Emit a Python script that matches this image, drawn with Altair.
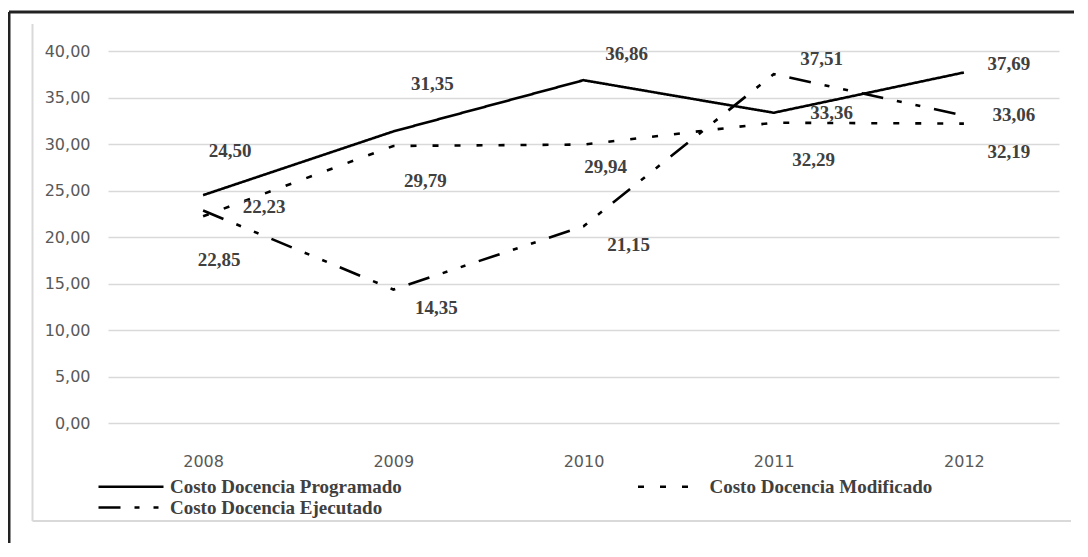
import altair as alt
import pandas as pd

years = ["2008", "2009", "2010", "2011", "2012"]
programado = [24.50, 31.35, 36.86, 33.36, 37.69]
modificado = [22.23, 29.79, 29.94, 32.29, 32.19]
ejecutado = [22.85, 14.35, 21.15, 37.51, 33.06]

series_names = [
    "Costo Docencia Programado",
    "Costo Docencia Modificado",
    "Costo Docencia Ejecutado",
]
series_values = [programado, modificado, ejecutado]

rows = []
for name, vals in zip(series_names, series_values):
    for yr, v in zip(years, vals):
        rows.append({"year": yr, "serie": name, "valor": v,
                     "etiqueta": f"{v:.2f}".replace(".", ",")})
df = pd.DataFrame(rows)

# label offsets (dx, dy) in pixels, per series / year
label_offsets = {
    series_names[0]: [(27, -44), (39, -47), (43, -26), (58, 0), (45, -8)],
    series_names[1]: [(61, -9), (32, 35), (22, 22), (40, 37), (45, 28)],
    series_names[2]: [(16, 50), (43, 18), (45, 19), (48, -15), (50, -1)],
}

dash_styles = {
    series_names[0]: [1, 0],
    series_names[1]: [6, 16],
    series_names[2]: [22, 14, 5, 14, 5, 14],
}
# legend is filled column by column: Programado / Ejecutado, then Modificado
legend_order = [series_names[0], series_names[2], series_names[1]]

W, H = 951, 372
PAD_L, PAD_T, PAD_R, PAD_B = 100, 43, 15, 120

x_enc = alt.X("year:O", scale=alt.Scale(type="point", padding=0.5),
              axis=alt.Axis(title=None, labelAngle=0, ticks=False, domain=False,
                            grid=False, labelPadding=30, labelFont="DejaVu Sans",
                            labelFontSize=16, labelColor="#595959"))
y_enc = alt.Y("valor:Q", scale=alt.Scale(domain=[0, 40], nice=False),
              axis=alt.Axis(title=None, values=list(range(0, 45, 5)), ticks=False,
                            domain=False, grid=True, gridColor="#d9d9d9",
                            gridWidth=1.5, labelPadding=18,
                            labelExpr="replace(format(datum.value, '.2f'), '.', ',')",
                            labelFont="DejaVu Sans", labelFontSize=16,
                            labelColor="#595959"))

base = alt.Chart(df)

lines = base.mark_line(color="black", strokeWidth=2.6).encode(
    x=x_enc,
    y=y_enc,
    strokeDash=alt.StrokeDash(
        "serie:N",
        scale=alt.Scale(domain=legend_order,
                        range=[dash_styles[n] for n in legend_order]),
        sort=legend_order,
        legend=alt.Legend(
            title=None, orient="none", legendX=13.5, legendY=426, columns=2,
            columnPadding=229.5, rowPadding=1,
            symbolType="M-6.5,0H6.5", symbolSize=100,
            symbolStrokeWidth=2.6, symbolStrokeColor="black",
            labelFont="Liberation Serif", labelFontWeight="bold",
            labelFontSize=19, labelColor="#404040", labelOffset=29.5,
            padding=0, labelLimit=400,
        ),
    ),
    detail="serie:N",
)

text_layers = []
for name in series_names:
    for yr, (dx, dy) in zip(years, label_offsets[name]):
        t = base.transform_filter(
            (alt.datum.serie == name) & (alt.datum.year == yr)
        ).mark_text(
            dx=dx, dy=dy, align="center", baseline="middle",
            font="Liberation Serif", fontWeight="bold", fontSize=19,
            color="#404040",
        ).encode(
            x=alt.X("year:O", scale=alt.Scale(type="point", padding=0.5)),
            y=alt.Y("valor:Q"),
            text="etiqueta:N",
        )
        text_layers.append(t)

one = alt.Chart(pd.DataFrame({"a": [0]}))
frame_left = one.mark_rule(color="#222222", strokeWidth=3).encode(
    x=alt.value(-99), y=alt.value(-39), y2=alt.value(H + PAD_B))
frame_top = one.mark_rule(color="#222222", strokeWidth=3).encode(
    x=alt.value(-99), x2=alt.value(W + PAD_R), y=alt.value(-39))
box_left = one.mark_rule(color="#d9d9d9", strokeWidth=2).encode(
    x=alt.value(-75.5), y=alt.value(-27), y2=alt.value(470))
box_bottom = one.mark_rule(color="#d9d9d9", strokeWidth=2).encode(
    x=alt.value(-75.5), x2=alt.value(963), y=alt.value(470))

chart = alt.layer(
    box_left, box_bottom, frame_left, frame_top, lines, *text_layers
).properties(
    width=W, height=H,
    autosize=alt.AutoSizeParams(type="none"),
    padding={"left": PAD_L, "top": PAD_T, "right": PAD_R, "bottom": PAD_B},
    background="white",
).configure_view(stroke=None)

chart.save("out.html", embed_options={"renderer": "svg", "actions": False})
